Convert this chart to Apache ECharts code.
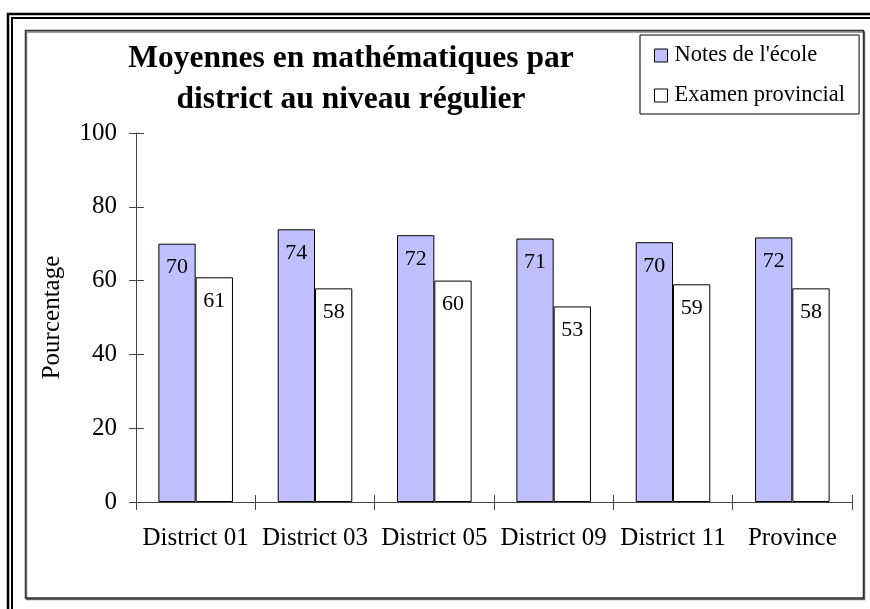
<!DOCTYPE html>
<html>
<head>
<meta charset="utf-8">
<script src="https://cdn.jsdelivr.net/npm/echarts@6/dist/echarts.min.js"></script>
<style>
  html, body { margin: 0; padding: 0; background: #fff; }
  #chart { width: 870px; height: 609px; }
</style>
</head>
<body>
<div id="chart"></div>
<script>
const categories = ['District 01', 'District 03', 'District 05', 'District 09', 'District 11', 'Province'];
const schoolMarks = [70.0, 73.9, 72.3, 71.4, 70.4, 71.7];
const provincialExam = [60.9, 57.9, 60.0, 53.0, 59.0, 57.9];
const yTicks = { min: 0, max: 100, interval: 20 };

const FONT = "'Liberation Serif', 'Times New Roman', serif";

const chart = echarts.init(document.getElementById('chart'));

const labelOpt = {
  show: true,
  position: 'insideTop',
  distance: 13,
  color: '#000',
  fontFamily: FONT,
  fontSize: 22,
  formatter: p => Math.round(p.value)
};

chart.setOption({
  animation: false,
  backgroundColor: '#fff',
  title: {
    text: 'Moyennes en mathématiques par\ndistrict au niveau régulier',
    left: 351,
    top: 38,
    padding: 0,
    textAlign: 'center',
    textStyle: { fontFamily: FONT, fontSize: 31.5, fontWeight: 'bold', color: '#000', lineHeight: 41 }
  },
  legend: {
    orient: 'vertical',
    left: 640,
    top: 35,
    padding: [9, 14, 7, 14],
    itemGap: 17,
    itemWidth: 13,
    itemHeight: 13,
    icon: 'rect',
    borderColor: '#000',
    borderWidth: 1,
    backgroundColor: '#fff',
    itemStyle: { borderColor: '#000', borderWidth: 1 },
    textStyle: { fontFamily: FONT, fontSize: 22.5, color: '#000', padding: [0, 0, 0, 2] }
  },
  grid: { left: 136, right: 18, top: 133, bottom: 107 },
  xAxis: [
    {
      type: 'category',
      data: categories,
      position: 'bottom',
      axisLine: { show: true, lineStyle: { color: '#444', width: 1 } },
      axisTick: { show: true, inside: false, length: 8, lineStyle: { color: '#444', width: 1 } },
      axisLabel: { margin: 24, color: '#000', fontFamily: FONT, fontSize: 25, interval: 0 }
    },
    {
      type: 'category',
      data: categories,
      position: 'bottom',
      axisLine: { show: false },
      axisTick: { show: true, inside: true, length: 7, lineStyle: { color: '#444', width: 1 } },
      axisLabel: { show: false }
    }
  ],
  yAxis: [
    {
      type: 'value',
      min: yTicks.min,
      max: yTicks.max,
      interval: yTicks.interval,
      name: 'Pourcentage',
      nameLocation: 'middle',
      nameRotate: 90,
      nameGap: 71,
      nameTextStyle: { fontFamily: FONT, fontSize: 25, color: '#000' },
      axisLine: { show: true, lineStyle: { color: '#444', width: 1 } },
      axisTick: { show: true, length: 7, lineStyle: { color: '#444', width: 1 } },
      axisLabel: { margin: 19, color: '#000', fontFamily: FONT, fontSize: 25 },
      splitLine: { show: false }
    },
    {
      type: 'value',
      min: yTicks.min,
      max: yTicks.max,
      interval: yTicks.interval,
      position: 'left',
      axisLine: { show: false },
      axisTick: { show: true, inside: true, length: 8, lineStyle: { color: '#444', width: 1 } },
      axisLabel: { show: false },
      splitLine: { show: false }
    }
  ],
  series: [
    {
      name: "Notes de l'école",
      type: 'bar',
      data: schoolMarks,
      barGap: '0%',
      barCategoryGap: '37.5%',
      itemStyle: { color: '#C0C0FF', borderColor: '#000', borderWidth: 1 },
      label: labelOpt
    },
    {
      name: 'Examen provincial',
      type: 'bar',
      data: provincialExam,
      barGap: '0%',
      barCategoryGap: '37.5%',
      itemStyle: { color: '#fff', borderColor: '#000', borderWidth: 1 },
      label: labelOpt
    }
  ],
  graphic: [
    {
      type: 'rect',
      silent: true,
      z: -10,
      shape: { x: 8, y: 14, width: 1000, height: 1000 },
      style: { fill: null, stroke: '#000', lineWidth: 2.5 }
    },
    {
      type: 'rect',
      silent: true,
      z: -10,
      shape: { x: 12, y: 18, width: 1000, height: 1000 },
      style: { fill: null, stroke: '#000', lineWidth: 2 }
    },
    {
      type: 'rect',
      silent: true,
      z: -10,
      shape: { x: 25.5, y: 30.5, width: 838, height: 567.5 },
      style: {
        fill: '#fff', stroke: '#333', lineWidth: 1.5,
        shadowColor: 'rgba(0,0,0,0.5)', shadowOffsetX: 1, shadowOffsetY: 1.5, shadowBlur: 0
      }
    }
  ]
});
</script>
</body>
</html>
